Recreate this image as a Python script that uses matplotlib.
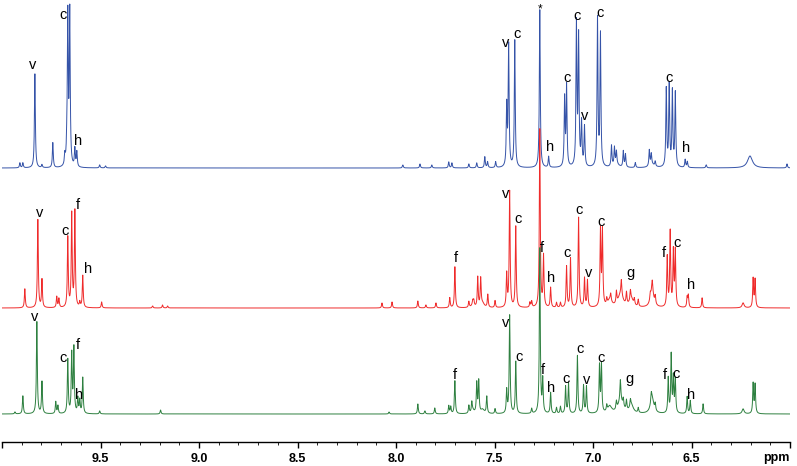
"""Stacked 1H NMR spectra (aromatic region) with peak assignments."""

import matplotlib

matplotlib.use("Agg")
import matplotlib.pyplot as plt
import numpy as np
from matplotlib.ticker import MultipleLocator

# ---- sharp lines (ppm, height in arbitrary units) ----
blue_ppm = [9.909, 9.894, 9.833, 9.797, 9.742, 9.681, 9.671, 9.666, 9.656, 9.630,
            9.620, 9.504, 9.474, 7.965, 7.878, 7.818, 7.732, 7.716, 7.630, 7.590,
            7.549, 7.535, 7.494, 7.438, 7.428, 7.397, 7.270, 7.225, 7.144, 7.134,
            7.084, 7.073, 7.058, 7.043, 6.977, 6.962, 6.906, 6.891, 6.881, 6.846,
            6.835, 6.785, 6.714, 6.704, 6.684, 6.628, 6.613, 6.597, 6.582, 6.532,
            6.521, 6.425, 6.015]
blue_height = [5, 5, 94, 3, 25, 10, 13, 149, 153, 18,
               15, 3, 2, 3, 4, 3, 6, 5, 4, 5,
               11, 6, 6, 60, 121, 127, 158, 11, 68, 80,
               142, 128, 43, 40, 148, 132, 21, 18, 13, 16,
               13, 5, 16, 11, 5, 78, 81, 75, 74, 8,
               6, 3, 4]
# broad humps (ppm, height, half width)
blue_broad_ppm = [6.203, 6.880, 6.700]
blue_broad_height = [12, 3, 3]
blue_broad_width = [0.015, 0.015, 0.015]

red_ppm = [9.884, 9.818, 9.797, 9.722, 9.711, 9.666, 9.646, 9.630, 9.605, 9.590,
           9.494, 9.235, 9.185, 9.159, 8.071, 8.020, 7.889, 7.848, 7.797, 7.727,
           7.701, 7.630, 7.610, 7.605, 7.585, 7.570, 7.534, 7.497, 7.438, 7.423,
           7.392, 7.320, 7.311, 7.270, 7.251, 7.215, 7.185, 7.165, 7.134, 7.114,
           7.073, 7.043, 7.028, 6.962, 6.952, 6.930, 6.910, 6.881, 6.856, 6.830,
           6.810, 6.790, 6.770, 6.709, 6.699, 6.684, 6.623, 6.608, 6.592, 6.582,
           6.522, 6.516, 6.446, 6.187, 6.177]
red_height = [19, 88, 28, 11, 9, 70, 93, 96, 5, 32,
              6, 2, 3, 2, 5, 6, 7, 3, 5, 10,
              41, 6, 4, 5, 30, 28, 13, 7, 33, 116,
              81, 5, 6, 178, 51, 20, 5, 5, 41, 49,
              90, 29, 27, 76, 75, 6, 7, 12, 15, 12,
              10, 6, 7, 6, 10, 8, 50, 75, 55, 56,
              10, 12, 10, 29, 28]
red_broad_ppm = [6.915, 6.860, 6.805, 6.700, 6.238, 7.560, 7.610]
red_broad_height = [7, 13, 8, 17, 5, 4, 3]
red_broad_width = [0.012, 0.015, 0.012, 0.010, 0.006, 0.010, 0.008]

green_ppm = [9.934, 9.894, 9.823, 9.797, 9.727, 9.716, 9.666, 9.646, 9.635, 9.615,
             9.605, 9.590, 9.504, 9.195, 8.035, 7.889, 7.853, 7.803, 7.732, 7.722,
             7.701, 7.630, 7.615, 7.590, 7.580, 7.539, 7.497, 7.438, 7.423, 7.392,
             7.311, 7.270, 7.255, 7.215, 7.185, 7.165, 7.139, 7.124, 7.079, 7.048,
             7.033, 6.967, 6.957, 6.930, 6.881, 6.861, 6.846, 6.830, 6.810, 6.770,
             6.704, 6.684, 6.618, 6.603, 6.592, 6.582, 6.522, 6.506, 6.441, 6.187,
             6.177]
green_height = [2, 18, 92, 32, 12, 8, 54, 59, 65, 15,
                13, 36, 3, 4, 2, 10, 3, 6, 8, 7,
                33, 8, 10, 30, 32, 17, 5, 23, 98, 52,
                5, 165, 33, 21, 6, 7, 27, 30, 58, 28,
                27, 47, 48, 6, 8, 20, 8, 10, 7, 5,
                8, 7, 35, 58, 35, 33, 17, 13, 10, 30,
                29]
green_broad_ppm = [6.915, 6.860, 6.805, 6.700, 6.238, 7.560, 7.610]
green_broad_height = [7, 13, 8, 16, 5, 4, 3]
green_broad_width = [0.012, 0.015, 0.012, 0.010, 0.006, 0.010, 0.008]

# ---- assignment labels: (letter, ppm, height) ----
blue_labels = [("v", 9.843, 377), ("c", 9.691, 427), ("h", 9.615, 301),
               ("v", 7.443, 399), ("c", 7.387, 408), ("h", 7.220, 295),
               ("c", 7.134, 364), ("c", 7.079, 426), ("v", 7.043, 326),
               ("c", 6.962, 429), ("c", 6.613, 364), ("h", 6.527, 294)]
red_labels = [("v", 9.808, 229), ("c", 9.681, 211), ("f", 9.615, 237),
              ("h", 9.565, 173), ("f", 7.696, 184), ("v", 7.443, 248),
              ("c", 7.382, 223), ("f", 7.261, 194), ("h", 7.215, 164),
              ("c", 7.134, 189), ("c", 7.073, 232), ("v", 7.023, 169),
              ("c", 6.957, 220), ("g", 6.810, 169), ("f", 6.638, 189),
              ("c", 6.572, 199), ("h", 6.501, 157)]
green_labels = [("v", 9.833, 125), ("c", 9.691, 84), ("f", 9.615, 97),
                ("h", 9.610, 47), ("f", 7.701, 67), ("v", 7.443, 119),
                ("c", 7.377, 85), ("f", 7.256, 72), ("h", 7.215, 54),
                ("c", 7.139, 63), ("c", 7.068, 93), ("v", 7.033, 62),
                ("c", 6.957, 84), ("g", 6.815, 63), ("f", 6.633, 67),
                ("c", 6.577, 68), ("h", 6.501, 47)]
solvent_label = ("*", 7.27, 433)

# vertical offsets of the three traces
baselines = {"blue": 274, "red": 134, "green": 28}
colors = {"blue": "#3553a8", "red": "#ef2b2b", "green": "#2e8040"}


def lorentz_sum(grid, centers, heights, hwhm):
    """Sum of Lorentzian lines evaluated on grid."""
    c = np.asarray(centers, dtype=float)[:, None]
    h = np.asarray(heights, dtype=float)[:, None]
    w = np.broadcast_to(np.asarray(hwhm, dtype=float), c.shape[:1])[:, None]
    return (h * w**2 / ((grid[None, :] - c) ** 2 + w**2)).sum(axis=0)


def build_trace(grid, ppm, height, broad_ppm, broad_height, broad_width):
    y = lorentz_sum(grid, ppm, height, 0.0027)
    y += lorentz_sum(grid, broad_ppm, broad_height, broad_width)
    return y


grid = np.linspace(6.0, 10.0, 20001)
traces = {
    "blue": (blue_ppm, blue_height, blue_broad_ppm, blue_broad_height,
             blue_broad_width, blue_labels),
    "red": (red_ppm, red_height, red_broad_ppm, red_broad_height,
            red_broad_width, red_labels),
    "green": (green_ppm, green_height, green_broad_ppm, green_broad_height,
              green_broad_width, green_labels),
}

fig = plt.figure(figsize=(7.97, 4.66), dpi=100)
ax = fig.add_axes([2 / 797, 24 / 466, 788 / 797, 442 / 466])

families = ["Liberation Sans", "DejaVu Sans"]
label_font = {"family": families, "size": 10.5}
for z, (name, (ppm, height, bppm, bheight, bwidth, labels)) in enumerate(traces.items()):
    y = baselines[name] + build_trace(grid, ppm, height, bppm, bheight, bwidth)
    ax.plot(grid, y, color=colors[name], linewidth=0.7, zorder=2 + z)
    for txt, px, py in labels:
        ax.text(px, py, txt, ha="center", va="center", fontdict=label_font, zorder=10)

ax.text(solvent_label[1], solvent_label[2], solvent_label[0], ha="center", va="center",
        fontsize=8.5, family=families)

ax.set_xlim(10.0, 6.0)
ax.set_ylim(0, 442)
for side in ("left", "right", "top"):
    ax.spines[side].set_visible(False)
ax.spines["bottom"].set_linewidth(1.0)
ax.set_yticks([])

major = np.arange(6.0, 10.01, 0.5)
ax.set_xticks(major)
ax.set_xticklabels(["" if (m < 6.1 or m > 9.9) else f"{m:.1f}" for m in major],
                   fontsize=9, fontweight="bold", family=families)
ax.xaxis.set_minor_locator(MultipleLocator(0.1))
ax.tick_params(axis="x", which="major", direction="out", length=4, width=1, pad=4)
ax.tick_params(axis="x", which="minor", direction="out", length=2, width=0.6)
ax.text(6.0, -16, "ppm", ha="right", va="center", fontsize=9, fontweight="bold",
        family=families, clip_on=False)

fig.savefig("out.png", dpi=100)
plt.close(fig)
